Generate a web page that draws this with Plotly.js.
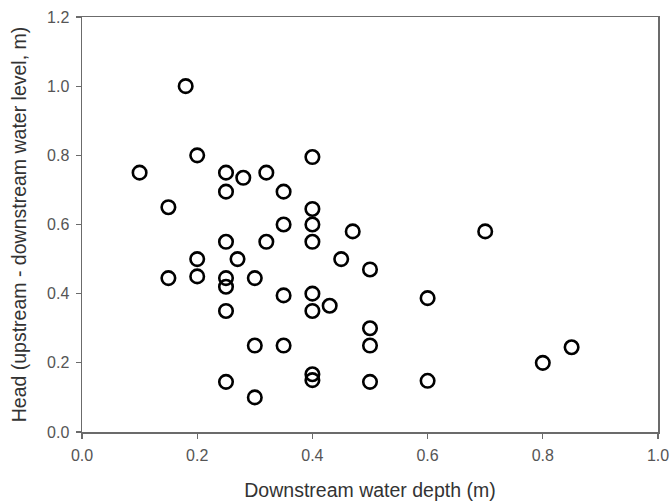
<!DOCTYPE html>
<html><head><meta charset="utf-8">
<script src="https://cdn.plot.ly/plotly-3.0.1.min.js"></script>
<style>html,body{margin:0;padding:0;background:#fff}#chart{width:670px;height:502px}</style>
</head><body><div id="chart"></div>
<script>
const depth = [0.18,0.20,0.10,0.25,0.28,0.32,0.40,0.25,0.35,0.15,0.40,0.35,0.40,0.47,0.70,
  0.25,0.32,0.40,0.20,0.27,0.45,0.50,0.15,0.20,0.25,0.30,0.25,0.35,0.40,0.43,0.40,0.60,
  0.25,0.50,0.30,0.35,0.50,0.85,0.80,0.40,0.40,0.25,0.50,0.60,0.30];
const head = [1.00,0.80,0.75,0.75,0.735,0.75,0.795,0.695,0.695,0.65,0.645,0.60,0.60,0.58,0.58,
  0.55,0.55,0.55,0.50,0.50,0.50,0.47,0.445,0.45,0.445,0.445,0.42,0.395,0.40,0.365,0.35,0.387,
  0.35,0.30,0.25,0.25,0.25,0.245,0.20,0.167,0.15,0.145,0.145,0.148,0.10];
const xTicks = [0,0.2,0.4,0.6,0.8,1.0];
const yTicks = [0,0.2,0.4,0.6,0.8,1.0,1.2];

const FONT = 'Liberation Sans, Arial, sans-serif';
const axisCommon = {
  showgrid:false, zeroline:false, showline:true, linecolor:'#6b6b6b', linewidth:1.5,
  mirror:true, ticks:'outside', ticklen:5, tickwidth:1.2, tickcolor:'#6b6b6b',
  tickfont:{family:FONT, size:16, color:'#555'},
  tickformat:'.1f', tickmode:'array', automargin:false
};
Plotly.newPlot('chart', [{
  x: depth, y: head, type:'scatter', mode:'markers',
  marker:{symbol:'circle-open', size:13.5, color:'#000', line:{width:2.6, color:'#000'}},
  hoverinfo:'x+y'
}], {
  width:670, height:502,
  margin:{l:82, r:12, t:17, b:70},
  paper_bgcolor:'#fff', plot_bgcolor:'#fff',
  showlegend:false,
  xaxis: Object.assign({}, axisCommon, {range:[0,1.0], tickvals:xTicks, ticklabelstandoff:3,
    title:{text:'Downstream water depth (m)', font:{family:FONT, size:19.5, color:'#333'}, standoff:20}}),
  yaxis: Object.assign({}, axisCommon, {range:[0,1.2], tickvals:yTicks, ticklabelstandoff:3,
    title:{text:'Head (upstream - downstream water level, m)', font:{family:FONT, size:19.5, color:'#333'}, standoff:15}})
}, {displayModeBar:false, staticPlot:true});
</script>
</body></html>
